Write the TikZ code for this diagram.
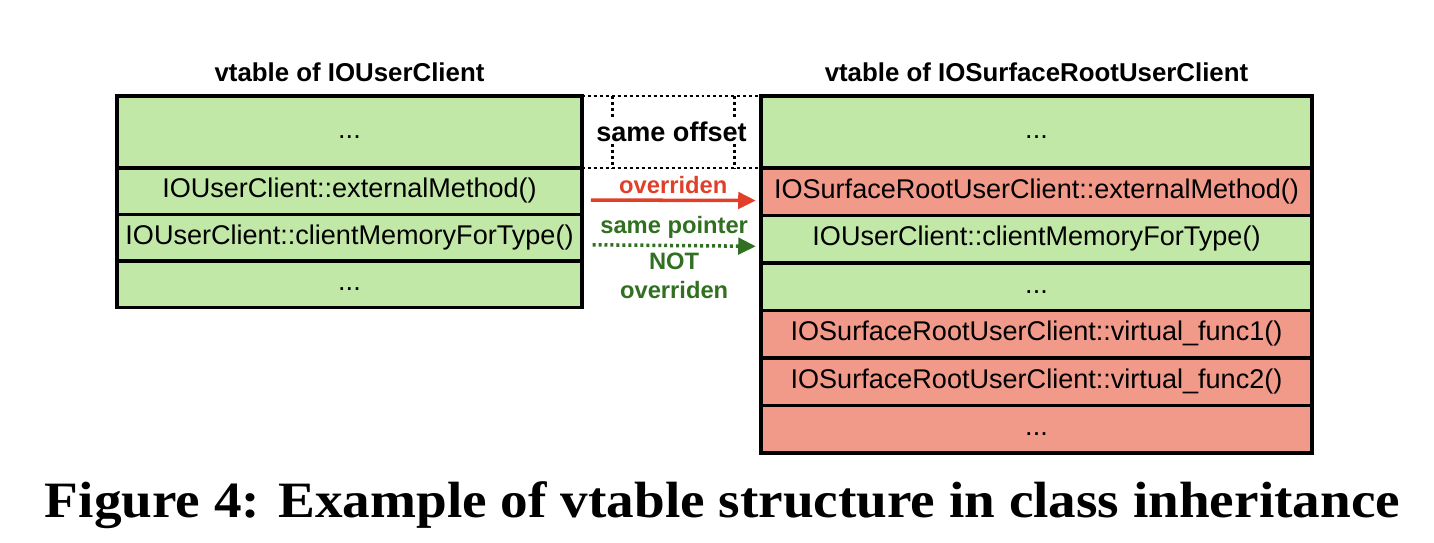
\documentclass[tikz,border=0pt]{standalone}
\usepackage{fontspec}
\setmainfont{Liberation Serif}
\setsansfont{Liberation Sans}
\usepackage{graphicx}
\usepackage{xcolor}
\usetikzlibrary{arrows.meta,positioning,calc}

\definecolor{oldgreen}{RGB}{194,232,168}
\definecolor{newred}{RGB}{242,154,138}
\definecolor{ovred}{RGB}{224,64,42}
\definecolor{ptgreen}{RGB}{48,112,32}

\begin{document}
\begin{tikzpicture}[
  node distance=0pt,
  slot/.style={rectangle, draw, line width=2pt, outer sep=0pt, inner xsep=1pt,
    text height=0.87em, text depth=0.13em,
    font=\sffamily\fontsize{15.4}{18}\selectfont},
  oldslot/.style={slot, fill=oldgreen},
  newslot/.style={slot, fill=newred},
  lslot/.style={minimum width=9.3cm, minimum height=0.93cm},
  rslot/.style={minimum width=11.02cm, minimum height=0.95cm},
  tabtitle/.style={font=\sffamily\bfseries\fontsize{14.7}{17}\selectfont, inner sep=0pt},
  note/.style={font=\sffamily\bfseries\fontsize{13.5}{16.5}\selectfont, align=center, inner sep=1pt},
  samebox/.style={line width=1.7pt, dash pattern=on 1.7pt off 1.7pt},
  arr/.style={-{Triangle[length=3.5mm,width=3.3mm]}, line width=2pt}
]
\useasboundingbox (0,0) rectangle (28.68,10.84);

% vtable of the parent class
\node[oldslot, lslot, minimum height=1.44cm] (lt1) at (6.99,8.2) {...};
\node[oldslot, lslot, below=of lt1] (lt2) {IOUserClient::externalMethod()};
\node[oldslot, lslot, below=of lt2] (lt3) {IOUserClient::clientMemoryForType()};
\node[oldslot, lslot, below=of lt3] (lt4) {...};
\node[tabtitle, above=0.28cm of lt1] (ltitle) {vtable of IOUserClient};

% vtable of the child class
\node[oldslot, rslot, minimum height=1.44cm] (rt1) at (20.73,8.2) {...};
\node[newslot, rslot, below=of rt1] (rt2) {IOSurfaceRootUserClient::externalMethod()};
\node[oldslot, rslot, below=of rt2] (rt3) {IOUserClient::clientMemoryForType()};
\node[oldslot, rslot, below=of rt3] (rt4) {...};
\node[newslot, rslot, below=of rt4] (rt5) {IOSurfaceRootUserClient::virtual\_func1()};
\node[newslot, rslot, below=of rt5] (rt6) {IOSurfaceRootUserClient::virtual\_func2()};
\node[newslot, rslot, below=of rt6] (rt7) {...};
\node[tabtitle, above=0.28cm of rt1] (rtitle) {vtable of IOSurfaceRootUserClient};

% same offset
\draw[samebox] (lt1.north east) -- (rt1.north west);
\draw[samebox] (lt1.south east) -- (rt1.south west);
\draw[samebox] ($(lt1.north east)!0.17!(rt1.north west)$) -- ($(lt1.south east)!0.17!(rt1.south west)$);
\draw[samebox] ($(lt1.north east)!0.85!(rt1.north west)$) -- ($(lt1.south east)!0.85!(rt1.south west)$);
\node[note, fill=white, font=\sffamily\bfseries\fontsize{15.4}{18}\selectfont] (same)
  at ($(lt1.east)!0.5!(rt1.west)$) {same offset};

% arrows
\draw[arr, ovred] ([xshift=5pt,yshift=-5pt]lt2.east) -- ([xshift=-3pt,yshift=-5pt]rt2.west)
  node[note, midway, above=2pt] (ovr) {overriden};
\draw[arr, ptgreen, dash pattern=on 1.7pt off 1.7pt] ([xshift=6pt,yshift=-4pt]lt3.east) -- ([xshift=-3pt,yshift=-4pt]rt3.west)
  node[note, midway, above=2pt] (ptr) {same pointer}
  node[note, midway, below=2pt] (notovr) {NOT\\overriden};

\node[font=\bfseries\fontsize{29}{34}\selectfont, anchor=base, inner sep=0pt] (cap) at (14.45,0.5)
  {\resizebox{27.1cm}{\height}{Figure 4: Example of vtable structure in class inheritance}};
\end{tikzpicture}
\end{document}
